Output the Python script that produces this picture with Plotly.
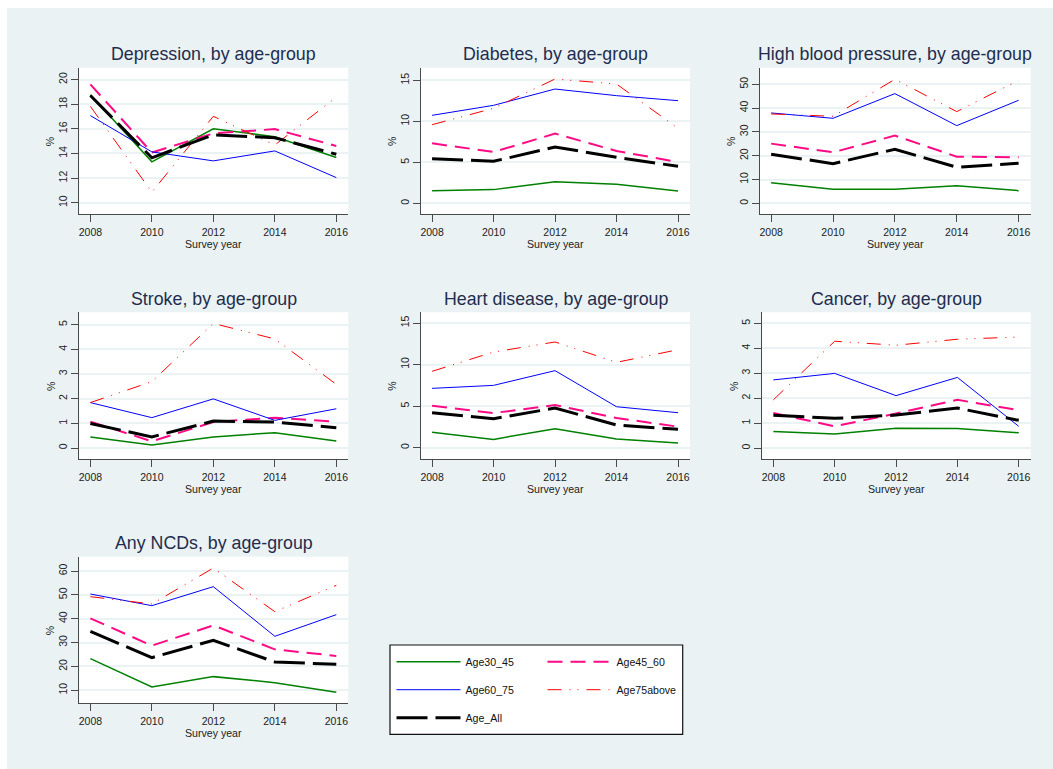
import plotly.graph_objects as go

# ---- data: prevalence (%) by survey year ----
years = [2008, 2010, 2012, 2014, 2016]
age_groups = ["Age30_45", "Age45_60", "Age60_75", "Age75above", "Age_All"]

# rows follow age_groups order
depression = [
    [18.77, 13.32, 16.00, 15.36, 13.67],
    [19.62, 14.08, 15.63, 15.98, 14.61],
    [17.08, 14.13, 13.40, 14.21, 12.04],
    [17.83, 10.86, 17.02, 14.69, 18.58],
    [18.71, 13.65, 15.52, 15.28, 13.94],
]
diabetes = [
    [1.54, 1.67, 2.64, 2.32, 1.50],
    [7.32, 6.26, 8.50, 6.38, 5.04],
    [10.73, 11.95, 13.94, 13.13, 12.52],
    [9.59, 11.59, 15.16, 14.55, 9.15],
    [5.45, 5.12, 6.87, 5.61, 4.51],
]
high_bp = [
    [8.68, 5.88, 5.88, 7.42, 5.32],
    [25.07, 21.43, 28.43, 19.61, 19.33],
    [37.96, 35.71, 46.08, 32.63, 43.28],
    [37.54, 36.55, 52.10, 38.52, 51.68],
    [20.59, 16.67, 22.69, 15.13, 16.81],
]
stroke = [
    [0.45, 0.12, 0.45, 0.62, 0.28],
    [1.07, 0.27, 1.05, 1.23, 1.07],
    [1.84, 1.23, 1.99, 1.12, 1.59],
    [1.84, 2.69, 5.05, 4.42, 2.58],
    [0.99, 0.45, 1.09, 1.05, 0.82],
]
heart = [
    [1.85, 1.00, 2.29, 1.04, 0.56],
    [5.05, 4.17, 5.13, 3.57, 2.53],
    [7.14, 7.50, 9.27, 4.93, 4.21],
    [9.19, 11.51, 12.72, 10.27, 11.79],
    [4.21, 3.49, 4.77, 2.73, 2.21],
]
cancer = [
    [0.66, 0.56, 0.79, 0.78, 0.61],
    [1.40, 0.87, 1.38, 1.93, 1.52],
    [2.73, 2.99, 2.10, 2.83, 0.87],
    [1.93, 4.28, 4.12, 4.36, 4.45],
    [1.31, 1.19, 1.32, 1.60, 1.11],
]
any_ncd = [
    [23.27, 11.40, 15.73, 13.21, 9.16],
    [40.17, 28.72, 37.23, 27.18, 24.39],
    [50.36, 45.47, 53.44, 32.63, 41.70],
    [49.25, 46.17, 61.26, 42.96, 54.00],
    [34.72, 23.69, 30.95, 21.87, 20.89],
]

titles = [
    "Depression, by age-group", "Diabetes, by age-group",
    "High blood pressure, by age-group", "Stroke, by age-group",
    "Heart disease, by age-group", "Cancer, by age-group",
    "Any NCDs, by age-group",
]
y_ticks = [
    [10, 12, 14, 16, 18, 20],
    [0, 5, 10, 15],
    [0, 10, 20, 30, 40, 50],
    [0, 1, 2, 3, 4, 5],
    [0, 5, 10, 15],
    [0, 1, 2, 3, 4, 5],
    [10, 20, 30, 40, 50, 60],
]
panels = [depression, diabetes, high_bp, stroke, heart, cancer, any_ncd]

# ---- styling ----
W, H = 1053, 769
BG = "#EAF2F3"
AXC = "#4a4a4a"
FONT = "Liberation Sans, Arial, sans-serif"
TITLE_C = "#1F2D4E"

styles = {
    "Age30_45":   dict(color="#008000", width=1.5, dash="solid"),
    "Age45_60":   dict(color="#FF0A85", width=2.0, dash="15px,8px"),
    "Age60_75":   dict(color="#0000FF", width=1.0, dash="solid"),
    "Age75above": dict(color="#FF0000", width=1.0, dash="14px,8px,1px,7px,1px,8px"),
    "Age_All":    dict(color="#000000", width=3.0, dash="31px,8px"),
}
legend_of = {"Age30_45": "legend", "Age60_75": "legend", "Age_All": "legend",
             "Age45_60": "legend2", "Age75above": "legend2"}

# plot-area boxes in pixels: (left, right, top, bottom)
boxes = [
    (79.3, 348.3, 67.7, 214.3),
    (421.0, 690.0, 67.7, 214.3),
    (760.0, 1030.7, 67.7, 214.3),
    (79.3, 348.3, 312.3, 459.0),
    (421.0, 690.0, 312.3, 459.0),
    (762.3, 1030.7, 312.3, 459.0),
    (79.3, 348.3, 556.7, 703.3),
]
y_ranges = [
    [9.06, 20.97], [-1.34, 16.54], [-4.62, 56.97], [-0.446, 5.50],
    [-1.36, 16.29], [-0.44, 5.44], [4.55, 66.0],
]
x_range = [2007.64, 2016.39]


def fx(px):
    return px / W


def fy(py):
    return 1 - py / H


fig = go.Figure()
annotations = []
layout_axes = {}

for i, (data, box) in enumerate(zip(panels, boxes)):
    n = i + 1
    xa = "x" if n == 1 else f"x{n}"
    ya = "y" if n == 1 else f"y{n}"
    for g, vals in zip(age_groups, data):
        st = styles[g]
        fig.add_trace(go.Scatter(
            x=years, y=vals, mode="lines", name=g,
            line=dict(color=st["color"], width=st["width"], dash=st["dash"]),
            xaxis=xa, yaxis=ya, legendgroup=g, legend=legend_of[g],
            showlegend=(n == 1), hoverinfo="x+y+name",
        ))
    l, r, t, b = box
    layout_axes["xaxis" if n == 1 else f"xaxis{n}"] = dict(
        domain=[fx(l), fx(r)], anchor=ya, range=x_range,
        tickvals=years, ticks="outside", ticklen=7, tickwidth=1.3,
        tickcolor=AXC, showline=True, linecolor=AXC, linewidth=1.3,
        showgrid=False, zeroline=False, ticklabelstandoff=1,
        tickfont=dict(family=FONT, size=10.5, color="#222"),
    )
    layout_axes["yaxis" if n == 1 else f"yaxis{n}"] = dict(
        domain=[fy(b), fy(t)], anchor=xa, range=y_ranges[i],
        tickvals=y_ticks[i], ticks="outside", ticklen=7, tickwidth=1.3,
        tickcolor=AXC, showline=True, linecolor=AXC, linewidth=1.3,
        showgrid=True, gridcolor=BG, gridwidth=1.6, zeroline=False,
        tickangle=-90, ticklabelstandoff=0,
        tickfont=dict(family=FONT, size=10.5, color="#222"),
    )
    cx = (l + r) / 2
    annotations.append(dict(
        text=titles[i], x=fx(cx), y=fy(t - 13.5), xref="paper", yref="paper",
        xanchor="center", yanchor="middle", showarrow=False,
        font=dict(family=FONT, size=17.8, color=TITLE_C),
    ))
    annotations.append(dict(
        text="Survey year", x=fx(cx), y=fy(b + 29.5), xref="paper", yref="paper",
        xanchor="center", yanchor="middle", showarrow=False,
        font=dict(family=FONT, size=10.6, color="#222"),
    ))
    annotations.append(dict(
        text="%", x=fx(l - 29), y=fy((t + b) / 2), xref="paper", yref="paper",
        xanchor="center", yanchor="middle", showarrow=False, textangle=-90,
        font=dict(family=FONT, size=10.6, color="#222"),
    ))

legend_common = dict(
    orientation="v", bgcolor="rgba(0,0,0,0)", borderwidth=0,
    font=dict(family=FONT, size=10.6, color="#111"),
    itemwidth=64, tracegroupgap=9, xanchor="left", yanchor="top",
    traceorder="grouped",
)

shapes = [
    # white page edge at left and top
    dict(type="rect", xref="paper", yref="paper", x0=0, x1=fx(7), y0=0, y1=1,
         fillcolor="white", line_width=0, layer="below"),
    dict(type="rect", xref="paper", yref="paper", x0=0, x1=1, y0=fy(8), y1=1,
         fillcolor="white", line_width=0, layer="below"),
    # legend frame
    dict(type="rect", xref="paper", yref="paper", x0=fx(390), x1=fx(682.7),
         y0=fy(734.3), y1=fy(645), fillcolor="white",
         line=dict(color="#111", width=1.2), layer="below"),
]

fig.update_layout(
    width=W, height=H, margin=dict(l=0, r=0, t=0, b=0),
    paper_bgcolor=BG, plot_bgcolor="white",
    font=dict(family=FONT, color="#222"),
    annotations=annotations, shapes=shapes,
    legend=dict(x=fx(391.5), y=fy(647.2), **legend_common),
    legend2=dict(x=fx(542.5), y=fy(647.2), **legend_common),
    **layout_axes,
)

fig.write_html("out.html")
